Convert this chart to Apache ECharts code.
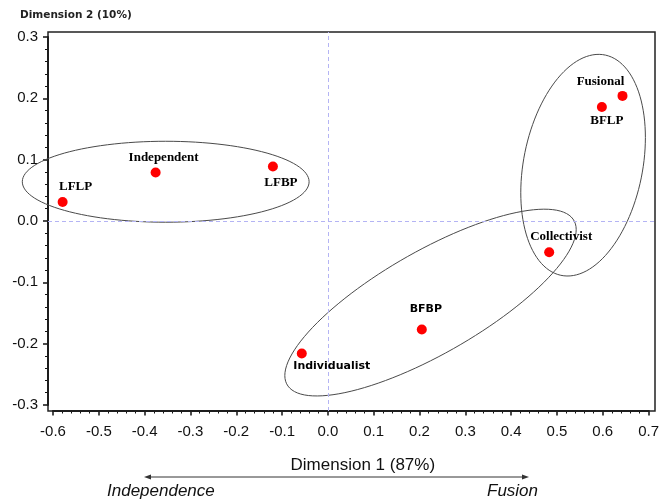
<!DOCTYPE html>
<html>
<head>
<meta charset="utf-8">
<script src="https://cdn.jsdelivr.net/npm/echarts@6/dist/echarts.min.js"></script>
<style>html,body{margin:0;padding:0;background:#fff}#c{width:670px;height:502px}</style>
</head>
<body>
<div id="c"></div>
<script>
// ---- data ----
const categories = ['LFLP', 'Independent', 'LFBP', 'Fusional', 'BFLP', 'Collectivist', 'BFBP', 'Individualist'];
const dim1 = [-0.579, -0.376, -0.120, 0.643, 0.598, 0.483, 0.205, -0.057];
const dim2 = [0.031, 0.079, 0.089, 0.204, 0.186, -0.051, -0.177, -0.216];

// ellipses: centre and two conjugate semi-axis vectors (data units)
const ellipseCenterX = [-0.354, 0.557, 0.224];
const ellipseCenterY = [0.064, 0.091, -0.133];
const ellipseAxisAX = [0.313, 0.136, 0.318];
const ellipseAxisAY = [0.000, 0.045, 0.119];
const ellipseAxisBY = [0.066, 0.175, 0.095];

const xRange = [-0.6, 0.7];
const yRange = [-0.3, 0.3];
const tickStep = 0.1;

const xAxisTitle = 'Dimension 1 (87%)';
const yAxisTitle = 'Dimension 2 (10%)';
const leftPole = 'Independence';
const rightPole = 'Fusion';

// ---- styling (positions of labels relative to points) ----
const labelOffsets = [[13, -15], [8, -15], [8, 16], [-22, -14], [5, 14], [12, -16], [4, -20], [30, 13]];
const sansLabels = { 'BFBP': true, 'Individualist': true };

const chart = echarts.init(document.getElementById('c'), null, { renderer: 'canvas' });

const pointData = categories.map((n, i) => ({
  name: n,
  value: [dim1[i], dim2[i]],
  label: {
    offset: labelOffsets[i],
    fontFamily: sansLabels[n] ? 'DejaVu Sans' : 'Liberation Serif',
    fontSize: sansLabels[n] ? 11 : 13,
    fontWeight: 'bold'
  }
}));

const ellipseData = ellipseCenterX.map((c, i) => [c, ellipseCenterY[i], ellipseAxisAX[i], ellipseAxisAY[i], ellipseAxisBY[i]]);

const fmt = v => (Math.abs(v) < 1e-9 ? '0.0' : v.toFixed(1));

const option = {
  animation: false,
  backgroundColor: '#fff',
  grid: [
    { left: 53, right: 21.4, top: 37, bottom: 97 },
    { left: 48, right: 15, top: 32, bottom: 91, show: true, borderColor: '#222', borderWidth: 1.5, backgroundColor: 'transparent', z: 1 }
  ],
  xAxis: [
    {
      gridIndex: 0, type: 'value', min: xRange[0], max: xRange[1], interval: tickStep,
      offset: 5.5,
      axisLine: { show: true, onZero: false, lineStyle: { color: '#111', width: 2 } },
      axisTick: { show: true, inside: false, length: 5, lineStyle: { color: '#111', width: 1.5 } },
      minorTick: { show: true, splitNumber: 5, length: 3, lineStyle: { color: '#111', width: 1 } },
      splitLine: { show: false },
      axisLabel: { formatter: fmt, fontFamily: 'Liberation Sans', fontSize: 15, color: '#111', margin: 14 },
      name: xAxisTitle, nameLocation: 'middle', nameGap: 46,
      nameTextStyle: { fontFamily: 'Liberation Sans', fontSize: 17, color: '#111', padding: [0, 0, 0, 24] }
    },
    { gridIndex: 1, type: 'value', min: -0.6109, max: 0.714, show: false }
  ],
  yAxis: [
    {
      gridIndex: 0, type: 'value', min: yRange[0], max: yRange[1], interval: tickStep,
      offset: 5,
      axisLine: { show: true, onZero: false, lineStyle: { color: '#111', width: 2 } },
      axisTick: { show: true, inside: false, length: 5, lineStyle: { color: '#111', width: 1.5 } },
      minorTick: { show: true, splitNumber: 5, length: 3, lineStyle: { color: '#111', width: 1 } },
      splitLine: { show: false },
      axisLabel: { formatter: fmt, fontFamily: 'Liberation Sans', fontSize: 15, color: '#111', margin: 10 }
    },
    { gridIndex: 1, type: 'value', min: -0.3098, max: 0.3082, show: false }
  ],
  graphic: [
    { type: 'text', left: 20, top: 10, style: { text: yAxisTitle, fontFamily: 'DejaVu Sans', fontSize: 10.5, fontWeight: 'bold', fill: '#222' } },
    { type: 'line', shape: { x1: 147, y1: 477, x2: 526, y2: 477 }, style: { stroke: '#333', lineWidth: 1 } },
    { type: 'polygon', shape: { points: [[144, 477], [151, 474.5], [151, 479.5]] }, style: { fill: '#333' } },
    { type: 'polygon', shape: { points: [[529, 477], [522, 474.5], [522, 479.5]] }, style: { fill: '#333' } },
    { type: 'text', left: 107, top: 483, style: { text: leftPole, fontFamily: 'Liberation Sans', fontStyle: 'italic', fontSize: 17, fill: '#111' } },
    { type: 'text', left: 487, top: 483, style: { text: rightPole, fontFamily: 'Liberation Sans', fontStyle: 'italic', fontSize: 17, fill: '#111' } }
  ],
  series: [
    {
      type: 'line', xAxisIndex: 1, yAxisIndex: 1, data: [], silent: true,
      markLine: {
        silent: true, symbol: 'none', animation: false,
        label: { show: false },
        lineStyle: { color: '#b4b4f4', type: [4, 3], width: 1 },
        data: [{ xAxis: 0 }, { yAxis: 0 }]
      }
    },
    {
      type: 'custom', xAxisIndex: 0, yAxisIndex: 0, clip: false, silent: true, z: 3,
      data: ellipseData,
      encode: { x: 0, y: 1 },
      renderItem: function (params, api) {
        const cx = api.value(0), cy = api.value(1), ax = api.value(2), ay = api.value(3), by = api.value(4);
        const pts = [];
        const N = 120;
        for (let k = 0; k < N; k++) {
          const t = 2 * Math.PI * k / N;
          pts.push(api.coord([cx + ax * Math.cos(t), cy + ay * Math.cos(t) + by * Math.sin(t)]));
        }
        return { type: 'polygon', shape: { points: pts }, style: { fill: 'none', stroke: '#4a4a4a', lineWidth: 1 } };
      }
    },
    {
      type: 'scatter', xAxisIndex: 0, yAxisIndex: 0, z: 5,
      symbol: 'circle', symbolSize: 10,
      itemStyle: { color: '#ff0000', opacity: 1 },
      label: { show: true, position: 'inside', formatter: p => p.name, color: '#000' },
      data: pointData
    }
  ]
};
chart.setOption(option);
</script>
</body>
</html>
